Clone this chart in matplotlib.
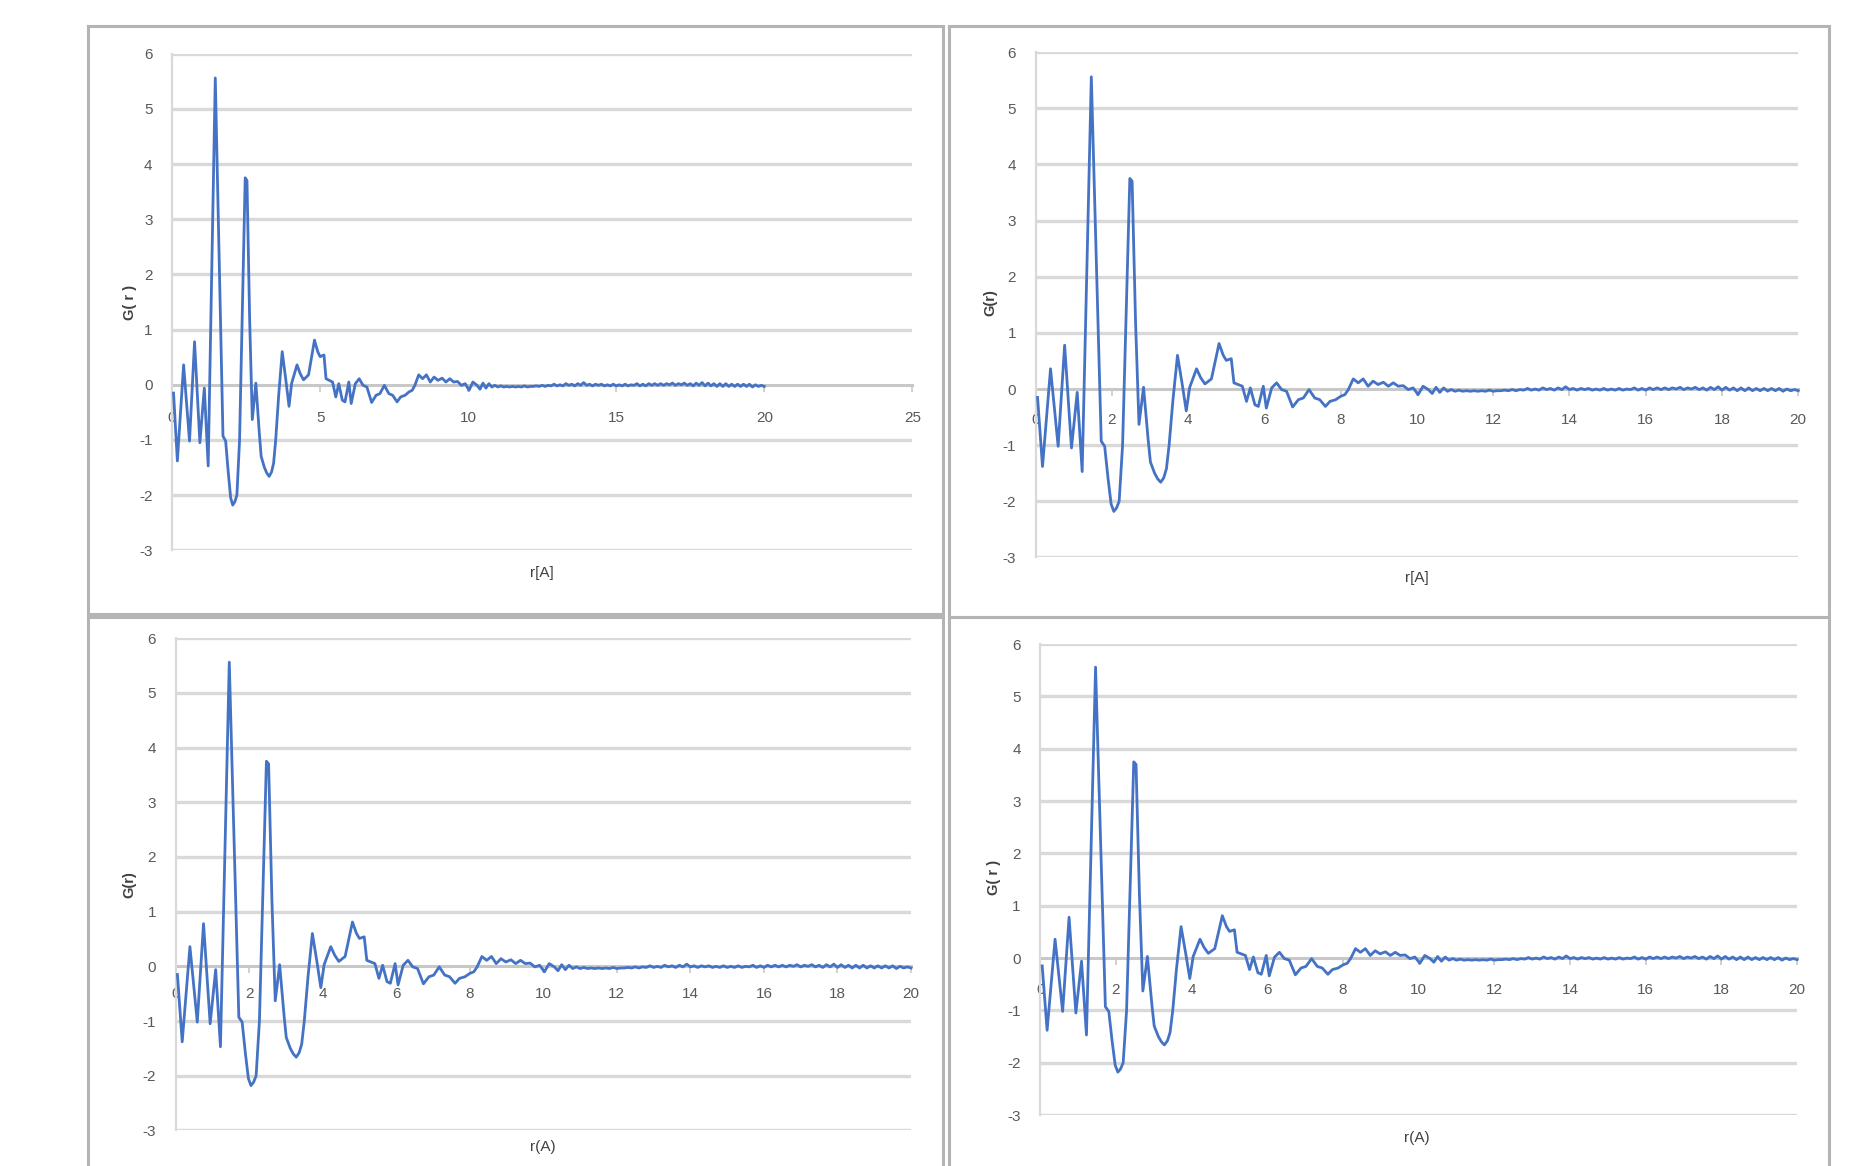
import matplotlib

matplotlib.use("Agg")
import matplotlib.pyplot as plt
from matplotlib.patches import Rectangle

plt.rcParams["axes.unicode_minus"] = False

# r (Angstrom) and G(r)
r_vals = [
    0.05, 0.18, 0.39, 0.59, 0.76, 0.94, 1.09, 1.22, 1.46, 1.72,
    1.81, 1.90, 1.98, 2.05, 2.12, 2.19, 2.28, 2.38, 2.47, 2.53,
    2.62, 2.71, 2.83, 2.95, 3.01, 3.12, 3.20, 3.28, 3.36, 3.43,
    3.50, 3.60, 3.72, 3.84, 3.95, 4.04, 4.22, 4.33, 4.44, 4.61,
    4.81, 4.92, 5.00, 5.13, 5.20, 5.31, 5.42, 5.53, 5.63, 5.75,
    5.84, 5.97, 6.05, 6.19, 6.32, 6.45, 6.58, 6.74, 6.89, 7.02,
    7.17, 7.32, 7.45, 7.60, 7.72, 7.87, 8.00, 8.11, 8.20, 8.33,
    8.46, 8.59, 8.72, 8.85, 8.98, 9.12, 9.25, 9.38, 9.51, 9.64,
    9.77, 9.90, 10.03, 10.16, 10.30, 10.40, 10.50, 10.60, 10.70, 10.80,
    10.90, 11.00, 11.10, 11.20, 11.30, 11.40, 11.50, 11.60, 11.70, 11.80,
    11.90, 12.00, 12.10, 12.20, 12.30, 12.40, 12.50, 12.60, 12.70, 12.80,
    12.90, 13.00, 13.10, 13.20, 13.30, 13.40, 13.50, 13.60, 13.70, 13.80,
    13.90, 14.00, 14.10, 14.20, 14.30, 14.40, 14.50, 14.60, 14.70, 14.80,
    14.90, 15.00, 15.10, 15.20, 15.30, 15.40, 15.50, 15.60, 15.70, 15.80,
    15.90, 16.00, 16.10, 16.20, 16.30, 16.40, 16.50, 16.60, 16.70, 16.80,
    16.90, 17.00, 17.10, 17.20, 17.30, 17.40, 17.50, 17.60, 17.70, 17.80,
    17.90, 18.00, 18.10, 18.20, 18.30, 18.40, 18.50, 18.60, 18.70, 18.80,
    18.90, 19.00, 19.10, 19.20, 19.30, 19.40, 19.50, 19.60, 19.70, 19.80,
    19.90, 20.00,
]
g_vals = [
    -0.15, -1.38, 0.36, -1.02, 0.78, -1.05, -0.06, -1.47, 5.56, -0.93,
    -1.02, -1.60, -2.05, -2.18, -2.12, -2.00, -1.00, 1.50, 3.75, 3.70,
    1.20, -0.63, 0.03, -0.90, -1.30, -1.50, -1.60, -1.66, -1.58, -1.42,
    -1.00, -0.20, 0.60, 0.10, -0.39, 0.03, 0.36, 0.20, 0.09, 0.18,
    0.81, 0.60, 0.51, 0.54, 0.11, 0.08, 0.05, -0.22, 0.02, -0.28,
    -0.31, 0.05, -0.34, 0.02, 0.11, -0.01, -0.04, -0.32, -0.19, -0.16,
    -0.01, -0.16, -0.19, -0.31, -0.22, -0.19, -0.13, -0.10, -0.01, 0.18,
    0.11, 0.18, 0.05, 0.14, 0.08, 0.12, 0.05, 0.11, 0.05, 0.06,
    -0.01, 0.02, -0.10, 0.05, -0.01, -0.08, 0.03, -0.06, 0.02, -0.04,
    -0.01, -0.04, -0.02, -0.04, -0.03, -0.04, -0.03, -0.04, -0.03, -0.04,
    -0.02, -0.04, -0.03, -0.03, -0.02, -0.03, -0.01, -0.03, -0.01, -0.02,
    0.01, -0.02, 0.00, -0.02, 0.02, -0.01, 0.01, -0.02, 0.02, -0.01,
    0.04, -0.01, 0.01, -0.02, 0.01, -0.01, 0.01, -0.02, 0.00, -0.02,
    0.01, -0.02, 0.00, -0.02, 0.01, -0.02, 0.00, -0.01, 0.02, -0.02,
    0.01, -0.02, 0.02, -0.01, 0.02, -0.01, 0.02, -0.01, 0.02, 0.00,
    0.03, -0.01, 0.02, 0.00, 0.03, -0.01, 0.02, -0.02, 0.03, -0.01,
    0.04, -0.02, 0.03, -0.02, 0.02, -0.03, 0.02, -0.03, 0.02, -0.03,
    0.01, -0.03, 0.01, -0.03, 0.01, -0.03, 0.01, -0.04, 0.00, -0.03,
    -0.01, -0.03,
]

y_ticks = [-3, -2, -1, 0, 1, 2, 3, 4, 5, 6]

# one entry per panel: x max, x tick step, y label, x label
panel_xmax = [25, 20, 20, 20]
panel_xstep = [5, 2, 2, 2]
panel_ylabels = ["G( r )", "G(r)", "G(r)", "G( r )"]
panel_xlabels = ["r[A]", "r[A]", "r(A)", "r(A)"]

# axes rectangles in figure fractions, label offsets, x tick label pads
axes_rects = [
    [0.0925, 0.528, 0.398, 0.426],
    [0.5568, 0.5219, 0.410, 0.4334],
    [0.0944, 0.0305, 0.3954, 0.4222],
    [0.5593, 0.0437, 0.4069, 0.4039],
]
ylabel_pos = [(-0.048, 0.50), (-0.050, 0.505), (-0.053, 0.50), (-0.052, 0.504)]
xlabel_pos = [(0.5, -0.045), (0.5, -0.041), (0.5, -0.033), (0.498, -0.049)]
xtick_pads = [14, 12.2, 9.7, 13.3]
frames = [
    (74, 22, 795, 518),
    (800, 22, 1542, 520),
    (74, 520, 795, 990),
    (800, 520, 1542, 990),
]

LINE = "#4472C4"
GRID = "#d9d9d9"
TEXT = "#595959"
FONT = ["Liberation Sans", "DejaVu Sans"]

fig = plt.figure(figsize=(18.6, 11.66), dpi=100)
fig.patch.set_facecolor("white")

# gray chart-area borders (coords measured on a 1568x983 view)
for x0, y0, x1, y1 in frames:
    fig.patches.append(
        Rectangle(
            (x0 / 1568, 1 - y1 / 983),
            (x1 - x0) / 1568,
            (y1 - y0) / 983,
            transform=fig.transFigure,
            fill=False,
            edgecolor="#b4b4b4",
            linewidth=2.2,
            zorder=0,
        )
    )

for i in range(4):
    ax = fig.add_axes(axes_rects[i])
    ax.plot(r_vals, g_vals, color=LINE, linewidth=2.0, zorder=3, clip_on=False)
    ax.set_xlim(0, panel_xmax[i])
    ax.set_ylim(-3, 6)
    ax.set_yticks(y_ticks)
    ax.set_xticks(list(range(0, panel_xmax[i] + 1, panel_xstep[i])))

    for y in y_ticks:
        if y != 0:
            ax.axhline(y, color=GRID, linewidth=2.4, zorder=1)

    ax.spines["top"].set_visible(False)
    ax.spines["right"].set_visible(False)
    ax.spines["left"].set_color(GRID)
    ax.spines["left"].set_linewidth(1.6)
    ax.spines["bottom"].set_position(("data", 0))
    ax.spines["bottom"].set_color("#c8c8c8")
    ax.spines["bottom"].set_linewidth(2.2)
    ax.spines["bottom"].set_zorder(2)

    ax.tick_params(axis="y", length=0, pad=14, labelsize=11, labelcolor=TEXT)
    ax.tick_params(axis="x", length=5, width=1.2, color="#c8c8c8", direction="out",
                   pad=xtick_pads[i], labelsize=11, labelcolor=TEXT)
    for lab in ax.get_xticklabels() + ax.get_yticklabels():
        lab.set_family(FONT)

    ax.set_ylabel(panel_ylabels[i], fontsize=10.5, color="#404040", fontweight="bold", family=FONT)
    ax.yaxis.set_label_coords(*ylabel_pos[i])
    ax.set_xlabel(panel_xlabels[i], fontsize=11, color="#404040", family=FONT)
    ax.xaxis.set_label_coords(*xlabel_pos[i])
    ax.xaxis.label.set_verticalalignment("center")
    ax.set_facecolor("none")

fig.savefig("out.png", dpi=100, facecolor="white")
